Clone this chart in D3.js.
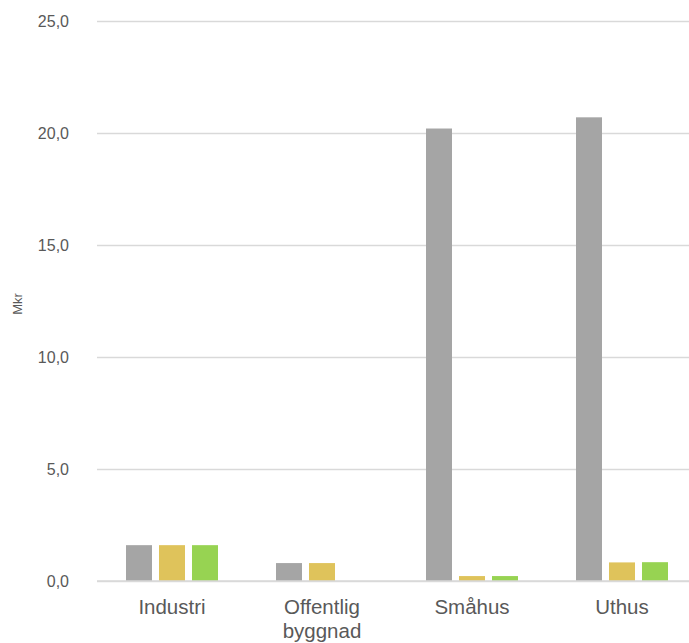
<!DOCTYPE html>
<html>
<head>
<meta charset="utf-8">
<script src="https://cdn.jsdelivr.net/npm/d3@7"></script>
<style>
  html, body { margin: 0; padding: 0; background: #fff; }
  svg { display: block; font-family: "Liberation Sans", Arial, sans-serif; }
</style>
</head>
<body>
<svg id="chart" width="689" height="643"></svg>
<script>
// Categories and the three series (Mkr)
const categories = ["Industri", "Offentlig byggnad", "Småhus", "Uthus"];
const seriesGrey   = [1.6, 0.8, 20.2, 20.7];
const seriesYellow = [1.6, 0.8, 0.22, 0.83];
const seriesGreen  = [1.6, null, 0.22, 0.84];
const seriesColors = ["#a5a5a5", "#dfc35b", "#97d352"];
const yTicks = [0, 5, 10, 15, 20, 25];

const series = [seriesGrey, seriesYellow, seriesGreen];

const svg = d3.select("#chart");
const width = 689, height = 643;
// plot area runs slightly past the right edge of the canvas
const plot = { left: 97, right: 697, top: 21, bottom: 581 };

const x = d3.scaleBand()
  .domain(categories)
  .range([plot.left, plot.right])
  .paddingInner(0)
  .paddingOuter(0);

const xInner = d3.scaleBand()
  .domain(d3.range(series.length))
  .range([0, x.bandwidth()])
  .paddingInner(0.212)
  .paddingOuter(0.879);

const y = d3.scaleLinear()
  .domain([0, 25])
  .range([plot.bottom, plot.top]);

const fmt = v => d3.format(".1f")(v).replace(".", ",");

// Gridlines and y tick labels
const yAxis = d3.axisLeft(y)
  .tickValues(yTicks)
  .tickSize(-(plot.right - plot.left))
  .tickPadding(28)
  .tickFormat(fmt);

const gy = svg.append("g")
  .attr("transform", `translate(${plot.left},0)`)
  .call(yAxis);
gy.select(".domain").remove();
gy.selectAll(".tick line").attr("stroke", "#d9d9d9").attr("stroke-width", 1.3);
gy.selectAll(".tick text")
  .attr("fill", "#595959")
  .style("font-size", "16px");

// Bars
categories.forEach((cat, ci) => {
  series.forEach((vals, si) => {
    const v = vals[ci];
    if (v == null) return;
    svg.append("rect")
      .attr("x", x(cat) + xInner(si))
      .attr("width", xInner.bandwidth())
      .attr("y", y(v))
      .attr("height", y(0) - y(v))
      .attr("fill", seriesColors[si]);
  });
});

// Baseline
svg.append("line")
  .attr("x1", plot.left).attr("x2", plot.right)
  .attr("y1", y(0)).attr("y2", y(0))
  .attr("stroke", "#d9d9d9").attr("stroke-width", 1.5);

// Category labels (wrapped on spaces for long names)
categories.forEach(cat => {
  const words = cat.split(" ");
  const cx = x(cat) + x.bandwidth() / 2;
  const t = svg.append("text")
    .attr("x", cx)
    .attr("y", y(0) + 33)
    .attr("text-anchor", "middle")
    .attr("fill", "#595959")
    .style("font-size", "20.5px");
  words.forEach((w, i) => {
    t.append("tspan")
      .attr("x", cx)
      .attr("dy", i === 0 ? 0 : 24)
      .text(w);
  });
});

// Y axis title
svg.append("text")
  .attr("transform", `translate(22,304) rotate(-90)`)
  .attr("text-anchor", "middle")
  .attr("fill", "#595959")
  .style("font-size", "13px")
  .text("Mkr");
</script>
</body>
</html>
